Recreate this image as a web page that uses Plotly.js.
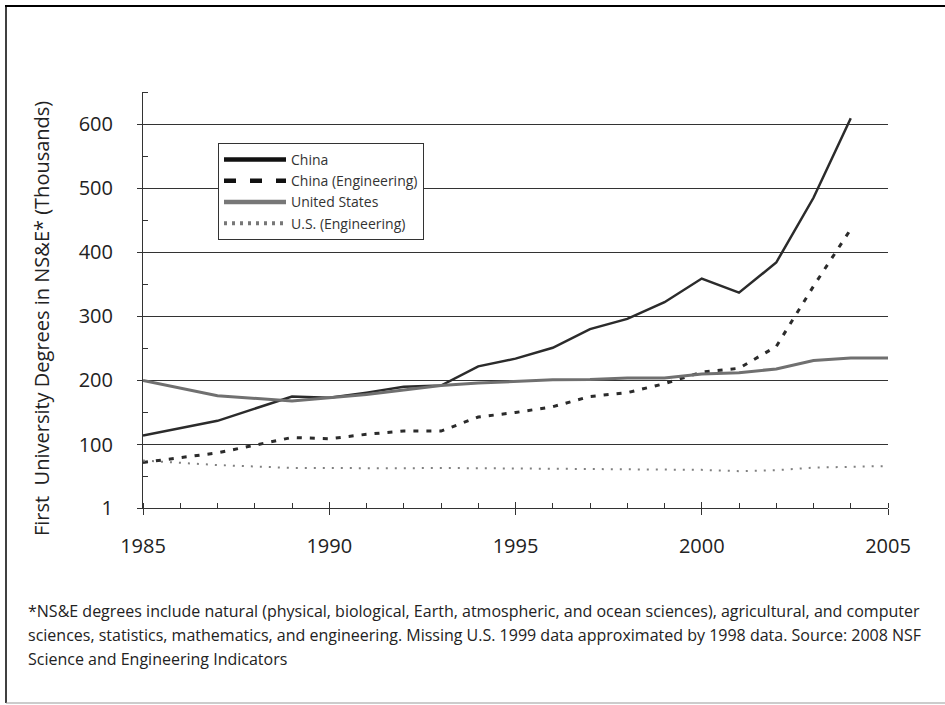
<!DOCTYPE html>
<html>
<head>
<meta charset="utf-8">
<script src="https://cdn.plot.ly/plotly-3.0.1.min.js"></script>
<style>html,body{margin:0;padding:0;background:#fff;}#chart{width:945px;height:705px;}</style>
</head>
<body>
<div id="chart"></div>
<script>
const years = [1985,1986,1987,1988,1989,1990,1991,1992,1993,1994,1995,1996,1997,1998,1999,2000,2001,2002,2003,2004,2005];
const china = [114,null,137,null,175,173,181,190,192,222,234,251,280,296,322,359,337,384,485,609,null];
const chinaEng = [72,null,87,null,111,109,116,121,121,143,150,159,175,181,195,213,219,253,347,436,null];
const us = [200,null,176,null,168,173,178,185,192,196,199,201,201.5,204,204,210,212,218,231,235,235];
const usEng = [75,null,68,null,63.5,63,63,63,63.5,63,63,62,62,61,61,60.5,58.5,60,64,65.5,66.5];
const seriesNames = ["China","China (Engineering)","United States","U.S. (Engineering)"];
const yTickVals = [1,100,200,300,400,500,600];
const yTickText = ["1","100","200","300","400","500","600"];
const yMinorVals = [50,150,250,350,450,550,650];
const yTitle = "First  University Degrees in NS&amp;E* (Thousands)";
const footnoteLines = [
  "*NS&amp;E degrees include natural (physical, biological, Earth, atmospheric, and ocean sciences), agricultural, and computer",
  "sciences, statistics, mathematics, and engineering. Missing U.S. 1999 data approximated by 1998 data. Source: 2008 NSF",
  "Science and Engineering Indicators"
];

const FONT = "Open Sans, Noto Sans, sans-serif";
const L = 143, R = 57, T = 92, B = 197, W = 945, H = 705;
const pw = W - L - R, ph = H - T - B;
const px = v => (v - L) / pw;
const py = v => (H - B - v) / ph;

const styles = [
  {line: {color: "#2b2b2b", width: 2.5}, legendLine: {color: "#111", width: 4.5}},
  {line: {color: "#2b2b2b", width: 3, dash: "5px,8px"}, legendLine: {color: "#111", width: 4.5, dash: "12px,14px"}},
  {line: {color: "#707070", width: 3}, legendLine: {color: "#777", width: 4.5}},
  {line: {color: "#808080", width: 2, dash: "2px,7px"}, legendLine: {color: "#777", width: 4, dash: "3px,5px"}}
];
const seriesData = [china, chinaEng, us, usEng];

const traces = [];
seriesData.forEach((vals, i) => {
  traces.push({x: years, y: vals, name: seriesNames[i], mode: "lines", connectgaps: true,
    line: styles[i].line, showlegend: false});
});
seriesData.forEach((vals, i) => {
  traces.push({x: [years[0]], y: [null], name: seriesNames[i], mode: "lines",
    line: styles[i].legendLine, showlegend: true, hoverinfo: "skip"});
});
traces.push({x: [years[0]], y: [null], xaxis: "x2", yaxis: "y", showlegend: false, hoverinfo: "skip", mode: "lines"});

const annotations = [
  {text: yTitle, xref: "paper", yref: "paper", x: px(41), y: py(319),
   xanchor: "center", yanchor: "middle", textangle: -90, showarrow: false,
   font: {family: FONT, size: 20, color: "#222"}}
];
footnoteLines.forEach((t, i) => {
  annotations.push({text: t, xref: "paper", yref: "paper", x: px(26), y: py(611 + 24 * i),
    xanchor: "left", yanchor: "middle", align: "left", showarrow: false,
    font: {family: FONT, size: 16, color: "#222"}});
});

const layout = {
  width: W, height: H,
  margin: {l: L, r: R, t: T, b: B},
  paper_bgcolor: "#fff", plot_bgcolor: "#fff",
  font: {family: FONT, color: "#222"},
  showlegend: true,
  legend: {
    x: px(218), y: py(143), xanchor: "left", yanchor: "top",
    bgcolor: "#fff", bordercolor: "#333", borderwidth: 1,
    font: {family: FONT, size: 14, color: "#333"},
    traceorder: "normal", tracegroupgap: 0, itemwidth: 62
  },
  xaxis: {
    range: [1985, 2005], tickmode: "linear", tick0: 1985, dtick: 5,
    showline: true, linecolor: "#333", linewidth: 1,
    ticks: "outside", ticklen: 6, tickcolor: "#333", tickwidth: 1,
    showgrid: false, zeroline: false,
    tickfont: {family: FONT, size: 20, color: "#222"},
    ticklabelstandoff: 14,
    minor: {dtick: 1, tick0: 1985, ticks: "inside", ticklen: 5, tickcolor: "#333", tickwidth: 1, showgrid: false}
  },
  xaxis2: {
    range: [1985, 2005], overlaying: "x", anchor: "y", side: "bottom",
    tickmode: "linear", tick0: 1985, dtick: 5,
    ticks: "inside", ticklen: 6, tickcolor: "#333", tickwidth: 1,
    showticklabels: false, showgrid: false, showline: false, zeroline: false
  },
  yaxis: {
    range: [1, 650], tickmode: "array", tickvals: yTickVals, ticktext: yTickText,
    showline: true, linecolor: "#333", linewidth: 1,
    ticks: "outside", ticklen: 5, tickcolor: "#333", tickwidth: 1,
    showgrid: true, gridcolor: "#333", gridwidth: 1, zeroline: false,
    tickfont: {family: FONT, size: 20, color: "#222"},
    ticklabelstandoff: 20,
    minor: {tickmode: "array", tickvals: yMinorVals, ticks: "inside", ticklen: 5, tickcolor: "#333", tickwidth: 1, showgrid: false}
  },
  annotations: annotations,
  shapes: [
    {type: "line", xref: "paper", yref: "paper", x0: px(5), x1: px(945), y0: py(6), y1: py(6), line: {color: "#000", width: 2}},
    {type: "line", xref: "paper", yref: "paper", x0: px(6), x1: px(6), y0: py(5), y1: py(703), line: {color: "#000", width: 1.5}},
    {type: "line", xref: "paper", yref: "paper", x0: px(6), x1: px(945), y0: py(703), y1: py(703), line: {color: "#999", width: 1}}
  ]
};

Plotly.newPlot("chart", traces, layout, {displayModeBar: false, staticPlot: true});
</script>
</body>
</html>
